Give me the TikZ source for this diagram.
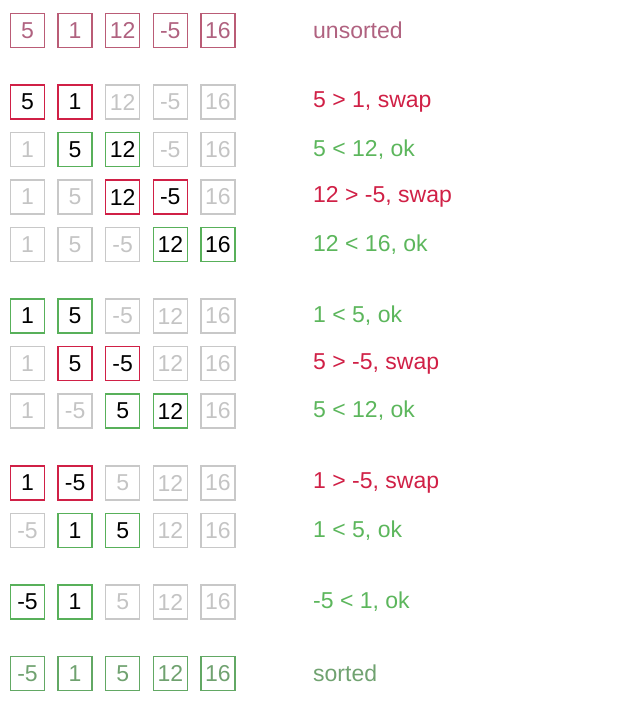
\documentclass[tikz,border=0pt]{standalone}
\usepackage{fontspec}
\setmainfont{Liberation Sans}
\definecolor{unsF}{RGB}{186,92,118}
\definecolor{unsT}{RGB}{176,98,128}
\definecolor{redF}{RGB}{208,32,70}
\definecolor{greenF}{RGB}{88,176,90}
\definecolor{greenT}{RGB}{92,182,92}
\definecolor{grayF}{RGB}{200,200,200}
\definecolor{grayT}{RGB}{196,196,196}
\definecolor{sortF}{RGB}{98,168,100}
\definecolor{sortT}{RGB}{112,162,112}
\begin{document}
\begin{tikzpicture}[x=1pt,y=-1pt,
  cell/.style={draw, line width=1.5pt, minimum width=34pt, minimum height=34pt,
    inner sep=0pt, font=\fontsize{23}{23}\selectfont},
  un/.style={draw=unsF, text=unsT},
  gr/.style={draw=grayF, text=grayT, line width=1.3pt},
  rd/.style={draw=redF, text=black},
  gn/.style={draw=greenF, text=black},
  so/.style={draw=sortF, text=sortT},
  lab/.style={anchor=west, inner sep=0pt, font=\fontsize{23}{23}\selectfont},
  unl/.style={text=unsT},
  rdl/.style={text=redF},
  gnl/.style={text=greenT},
  sol/.style={text=sortT}]
\useasboundingbox (0,0) rectangle (640,701);
\foreach \r/\y/\cells/\txt/\ls in {
  1/30.5/{5/un,1/un,12/un,-5/un,16/un}/unsorted/unl,
  2/102/{5/rd,1/rd,12/gr,-5/gr,16/gr}/{5 > 1, swap}/rdl,
  3/149.5/{1/gr,5/gn,12/gn,-5/gr,16/gr}/{5 < 12, ok}/gnl,
  4/197/{1/gr,5/gr,12/rd,-5/rd,16/gr}/{12 > -5, swap}/rdl,
  5/244.5/{1/gr,5/gr,-5/gr,12/gn,16/gn}/{12 < 16, ok}/gnl,
  6/316/{1/gn,5/gn,-5/gr,12/gr,16/gr}/{1 < 5, ok}/gnl,
  7/363.5/{1/gr,5/rd,-5/rd,12/gr,16/gr}/{5 > -5, swap}/rdl,
  8/411/{1/gr,-5/gr,5/gn,12/gn,16/gr}/{5 < 12, ok}/gnl,
  9/483/{1/rd,-5/rd,5/gr,12/gr,16/gr}/{1 > -5, swap}/rdl,
  10/530.5/{-5/gr,1/gn,5/gn,12/gr,16/gr}/{1 < 5, ok}/gnl,
  11/602/{-5/gn,1/gn,5/gr,12/gr,16/gr}/{-5 < 1, ok}/gnl,
  12/673.5/{-5/so,1/so,5/so,12/so,16/so}/sorted/sol}
{
  \foreach \v/\s [count=\i] in \cells {
    \node[cell,\s] (r\r c\i) at ({27.5+47.6*(\i-1)},\y) {\v};
  }
  \node[lab,\ls] (l\r) at (313,\y) {\txt};
}
\end{tikzpicture}
\end{document}
